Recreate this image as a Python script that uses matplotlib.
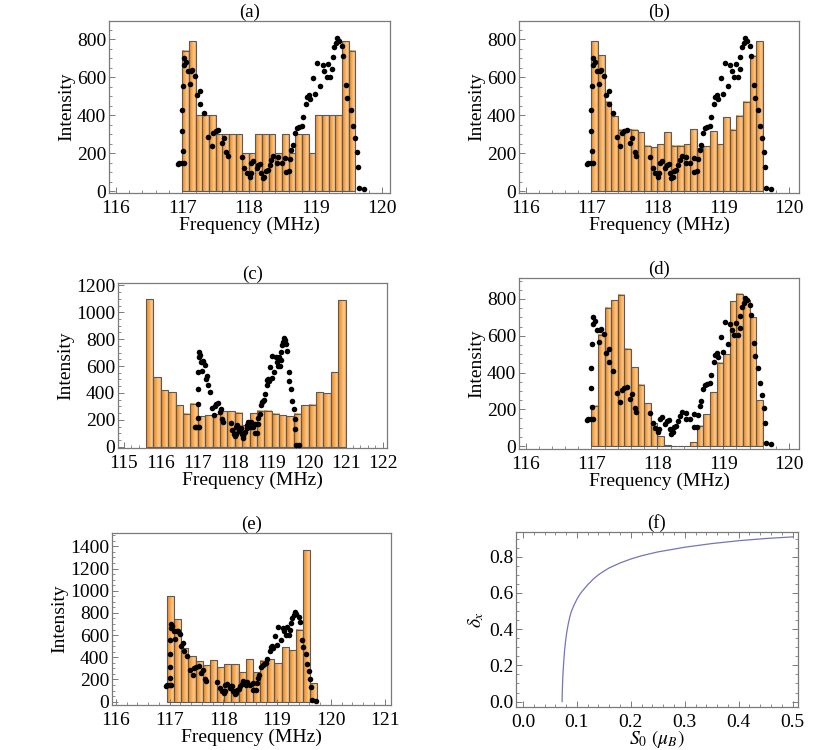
import numpy as np
import matplotlib
matplotlib.use("Agg")
from matplotlib import pyplot as plt
from matplotlib.colors import LinearSegmentedColormap
from matplotlib.ticker import MultipleLocator

# measured spectrum (same dots in panels a-e)
freq = [116.93, 116.95, 117.00, 117.02, 117.01, 117.00, 117.00, 117.01, 117.02, 117.02,
        117.05, 117.08, 117.11, 117.13, 117.15, 117.19, 117.22, 117.26, 117.27, 117.32,
        117.38, 117.44, 117.46, 117.50, 117.54, 117.59, 117.62, 117.66, 117.68, 117.89,
        117.93, 117.97, 118.01, 118.03, 118.04, 118.07, 118.12, 118.14, 118.17, 118.19,
        118.21, 118.23, 118.26, 118.29, 118.32, 118.34, 118.37, 118.43, 118.44, 118.50,
        118.55, 118.56, 118.60, 118.62, 118.64, 118.67, 118.70, 118.73, 118.76, 118.80,
        118.82, 118.86, 118.88, 118.91, 118.92, 118.96, 119.00, 119.02, 119.07, 119.11,
        119.13, 119.17, 119.19, 119.22, 119.25, 119.26, 119.28, 119.31, 119.33, 119.36,
        119.40, 119.42, 119.46, 119.48, 119.53, 119.56, 119.59, 119.62, 119.64, 119.65,
        119.73]
intensity = [144, 148, 146, 146, 213, 316, 427, 554, 664, 703,
             682, 633, 564, 633, 638, 608, 506, 527, 459, 410,
             287, 237, 304, 316, 322, 255, 281, 207, 186, 178,
             123, 97, 76, 93, 146, 160, 120, 137, 141, 93,
             67, 76, 105, 111, 137, 163, 186, 146, 181, 146,
             172, 102, 105, 169, 216, 243, 308, 331, 339, 345,
             389, 459, 494, 506, 485, 594, 510, 673, 554, 664,
             633, 603, 670, 603, 643, 708, 758, 779, 805, 793,
             766, 714, 559, 492, 427, 343, 278, 207, 128, 14,
             9]

# simulated histograms: (first edge, last edge, bar heights)
a_range = (117.0, 119.6)
a_counts = [740, 790, 400, 400, 400, 300, 300, 300, 300, 200, 200, 300, 300,
            300, 200, 300, 200, 300, 300, 200, 400, 400, 400, 400, 790, 740]
b_range = (117.0, 119.6)
b_counts = [790, 715, 470, 395, 322, 325, 322, 310, 240, 230, 246, 310, 240,
            240, 246, 325, 225, 237, 316, 246, 388, 322, 397, 471, 714, 790]
c_range = (115.6, 121.0)
c_counts = [1100, 516, 419, 404, 309, 246, 321, 229, 232, 240, 266, 263, 254, 160,
            249, 268, 268, 246, 233, 230, 246, 308, 313, 404, 396, 554, 1094]
d_range = (117.0, 119.6)
d_counts = [218, 606, 753, 793, 822, 528, 428, 334, 232, 123, 53, 5, 0,
            0, 0, 20, 109, 172, 292, 452, 499, 788, 828, 795, 700, 250]
e_range = (116.95, 119.75)
e_counts = [953, 743, 486, 414, 369, 330, 372, 312, 339, 339, 270, 384, 270,
            370, 381, 351, 495, 462, 650, 1364, 165]

# panel (f)
s0_vals = [0.0725, 0.073, 0.074, 0.0755, 0.077, 0.079, 0.081, 0.084, 0.087, 0.09,
           0.095, 0.10, 0.105, 0.11, 0.12, 0.13, 0.14, 0.15, 0.16, 0.18,
           0.20, 0.22, 0.25, 0.30, 0.35, 0.40, 0.45, 0.50]
delta_vals = [0.0, 0.07, 0.15, 0.22, 0.28, 0.335, 0.38, 0.43, 0.47, 0.50,
              0.535, 0.565, 0.59, 0.61, 0.645, 0.675, 0.70, 0.72, 0.738, 0.765,
              0.787, 0.805, 0.826, 0.852, 0.872, 0.888, 0.90, 0.909]

plt.rcParams['font.family'] = ['Liberation Serif', 'DejaVu Serif']
plt.rcParams['mathtext.fontset'] = 'stix'

W, H = 830, 750
fig = plt.figure(figsize=(W / 100, H / 100), dpi=100)

bar_cmap = LinearSegmentedColormap.from_list(
    'bar', ['#EF8A1F', '#F49A37', '#F8B263', '#FCCB94', '#F6A349'])
grad = np.linspace(0, 1, 64).reshape(1, -1)
FRAME = '#7a7a7a'


def px_axes(l, t, r, b):
    return fig.add_axes([l / W, 1 - b / H, (r - l) / W, (b - t) / H])


def style(ax, title, xlim, ylim, xmaj, xmin, ymaj, ymin, all_sides=False):
    ax.set_xlim(*xlim)
    ax.set_ylim(*ylim)
    ax.xaxis.set_major_locator(MultipleLocator(xmaj))
    ax.xaxis.set_minor_locator(MultipleLocator(xmin))
    ax.yaxis.set_major_locator(MultipleLocator(ymaj))
    ax.yaxis.set_minor_locator(MultipleLocator(ymin))
    ax.tick_params(which='both', direction='in', color=FRAME, labelsize=14,
                   top=all_sides, right=all_sides)
    ax.tick_params(axis='x', which='both', pad=5)
    ax.tick_params(axis='y', which='both', pad=2)
    ax.tick_params(which='major', length=4, width=0.7)
    ax.tick_params(which='minor', length=2, width=0.6)
    for s in ax.spines.values():
        s.set_color(FRAME)
        s.set_linewidth(0.9)
    ax.set_title(title, fontsize=13.5, pad=2)


def hist_panel(box, title, rng, counts, xlim, ylim, ymaj, ymin):
    ax = px_axes(*box)
    edges = np.linspace(rng[0], rng[1], len(counts) + 1)
    for x0, x1, h in zip(edges[:-1], edges[1:], counts):
        if h <= 0:
            continue
        ax.imshow(grad, extent=(x0, x1, 0, h), aspect='auto', cmap=bar_cmap,
                  interpolation='bilinear', zorder=1)
    ax.bar(edges[:-1], counts, width=np.diff(edges), align='edge', fill=False,
           edgecolor='#5a5a5a', linewidth=0.8, zorder=2)
    ax.scatter(freq, intensity, s=16, color='black', linewidths=0, zorder=3)
    style(ax, title, xlim, ylim, 1, 0.2, ymaj, ymin)
    ax.set_xlabel('Frequency (MHz)', fontsize=14, labelpad=0)
    ax.set_ylabel('Intensity', fontsize=14, labelpad=1)
    return ax


hist_panel((109, 21, 390, 193), '(a)', a_range, a_counts,
           (115.9, 120.12), (-10, 896), 200, 50)
hist_panel((519, 21, 799, 193), '(b)', b_range, b_counts,
           (115.9, 120.15), (-10, 896), 200, 50)
hist_panel((118, 283, 387, 448), '(c)', c_range, c_counts,
           (114.84, 122.12), (-10, 1218), 200, 50)
hist_panel((519, 278, 799, 449), '(d)', d_range, d_counts,
           (115.9, 120.15), (-16, 914), 200, 50)
hist_panel((112, 533, 391, 705), '(e)', e_range, e_counts,
           (115.93, 121.12), (-30, 1520), 200, 50)

ax = px_axes(516, 532, 798, 707)
ax.plot(s0_vals, delta_vals, color='#7474bc', linewidth=0.9)
style(ax, '(f)', (-0.013, 0.51), (-0.03, 0.936), 0.1, 0.02, 0.2, 0.05, all_sides=True)
ax.set_xlabel(r'$S_0\ (\mu_B)$', fontsize=14, labelpad=-2)
ax.set_ylabel(r'$\delta_x$', fontsize=14, labelpad=2)

fig.savefig('out.png', dpi=100)
